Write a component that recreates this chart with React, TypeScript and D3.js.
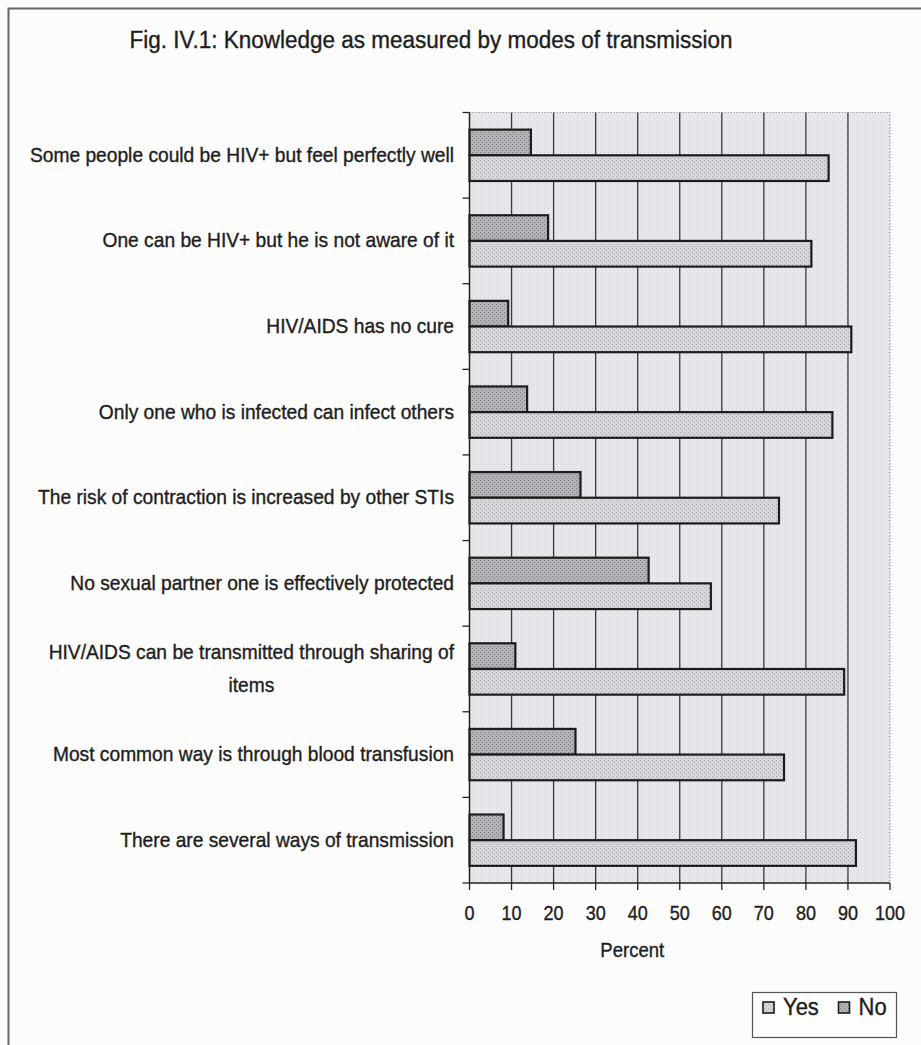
import React, { useEffect, useRef } from 'react';
import * as d3 from 'd3';

// values (percent)
const categories = [
  'Some people could be HIV+ but feel perfectly well',
  'One can be HIV+ but he is not aware of it',
  'HIV/AIDS has no cure',
  'Only one who is infected can infect others',
  'The risk of contraction is increased by other STIs',
  'No sexual partner one is effectively protected',
  'HIV/AIDS can be transmitted through sharing of\nitems',
  'Most common way is through blood transfusion',
  'There are several ways of transmission',
];
const noValues = [14.6, 18.7, 9.2, 13.7, 26.4, 42.6, 10.9, 25.2, 8.1];
const yesValues = [85.4, 81.3, 90.8, 86.3, 73.6, 57.4, 89.1, 74.8, 91.9];
const seriesNames = ['No', 'Yes'];
const xTicks = [0, 10, 20, 30, 40, 50, 60, 70, 80, 90, 100];
const legendItems = ['Yes', 'No'];

const W = 921;
const H = 1045;
const FONT = '"Liberation Sans", Arial, sans-serif';
const STRETCH = 1.1; // the scan is a little taller than wide

const App = () => {
  const svgRef = useRef<SVGSVGElement>(null);

  useEffect(() => {
    const svg = d3.select(svgRef.current);
    svg.selectAll('*').remove();

    const left = 469.5, right = 890, top = 112.5, bottom = 883;

    const x = d3.scaleLinear().domain([0, 100]).range([left, right]);
    const y = d3.scaleBand<string>()
      .domain(categories)
      .range([top, bottom])
      .paddingInner(0.4)
      .paddingOuter(0.2);
    const inner = d3.scaleBand<string>()
      .domain(seriesNames)
      .range([0, y.bandwidth()]);

    // helper for text, stretched vertically like the scan
    const label = (parent, tx, ty, size, txt, anchor = 'middle') =>
      parent.append('text')
        .attr('transform', `translate(${tx},${ty}) scale(1,${STRETCH})`)
        .attr('text-anchor', anchor)
        .style('font-family', FONT)
        .style('font-size', size + 'px')
        .style('fill', '#1e1e1e')
        .style('stroke', '#1e1e1e')
        .style('stroke-width', 0.35)
        .text(txt);

    // stipple patterns, like the scanned greys
    const defs = svg.append('defs');
    const mkPattern = (id, base, dot) => {
      const p = defs.append('pattern')
        .attr('id', id)
        .attr('width', 4)
        .attr('height', 4)
        .attr('patternUnits', 'userSpaceOnUse');
      p.append('rect').attr('width', 4).attr('height', 4).attr('fill', base);
      p.append('rect').attr('x', 0).attr('y', 0).attr('width', 1).attr('height', 1).attr('fill', dot);
      p.append('rect').attr('x', 2).attr('y', 2).attr('width', 1).attr('height', 1).attr('fill', dot);
    };
    mkPattern('patYes', '#d6d6db', '#a4a4ab');
    mkPattern('patNo', '#b2b2b7', '#76767c');
    mkPattern('patBg', '#e9e9ed', '#cfcfd5');

    svg.append('rect').attr('width', W).attr('height', H).attr('fill', '#fcfcfc');

    // outer frame (left and top edges visible in scan)
    svg.append('path')
      .attr('d', `M8.5,${H} V8.5 H${W}`)
      .attr('fill', 'none')
      .attr('stroke', '#666')
      .attr('stroke-width', 2);

    label(svg, 431, 48, 22.5, 'Fig. IV.1: Knowledge as measured by modes of transmission');

    // plot area
    svg.append('rect')
      .attr('x', left)
      .attr('y', top)
      .attr('width', right - left)
      .attr('height', bottom - top)
      .attr('fill', 'url(#patBg)');
    svg.append('path')
      .attr('d', `M${left},${top} H${right} V${bottom}`)
      .attr('fill', 'none')
      .attr('stroke', '#a0a0a6')
      .attr('stroke-width', 1.2)
      .attr('stroke-dasharray', '1.5 1.5');

    svg.append('g')
      .selectAll('line')
      .data(xTicks.filter(t => t > 0 && t < 100))
      .enter().append('line')
      .attr('x1', d => x(d))
      .attr('x2', d => x(d))
      .attr('y1', top)
      .attr('y2', bottom)
      .attr('stroke', '#3a3a3a')
      .attr('stroke-width', 1.3);

    // bars
    const rows = categories.map((c, i) => ({ c, No: noValues[i], Yes: yesValues[i] }));
    const g = svg.append('g');
    rows.forEach(r => {
      seriesNames.forEach(s => {
        g.append('rect')
          .attr('x', x(0))
          .attr('y', y(r.c) + inner(s))
          .attr('width', x(r[s]) - x(0))
          .attr('height', inner.bandwidth())
          .attr('fill', s === 'Yes' ? 'url(#patYes)' : 'url(#patNo)')
          .attr('stroke', '#1c1c1c')
          .attr('stroke-width', 2.2);
      });
    });

    // left axis
    const step = y.step();
    svg.append('line')
      .attr('x1', left).attr('x2', left)
      .attr('y1', top).attr('y2', bottom)
      .attr('stroke', '#222').attr('stroke-width', 1.5);
    svg.append('g')
      .selectAll('line')
      .data(d3.range(categories.length + 1))
      .enter().append('line')
      .attr('x1', left - 7).attr('x2', left)
      .attr('y1', i => top + i * step)
      .attr('y2', i => top + i * step)
      .attr('stroke', '#222').attr('stroke-width', 1.3);

    // bottom axis
    svg.append('line')
      .attr('x1', left).attr('x2', right)
      .attr('y1', bottom).attr('y2', bottom)
      .attr('stroke', '#222').attr('stroke-width', 1.5);
    const xt = svg.append('g');
    xTicks.forEach(d => {
      xt.append('line')
        .attr('x1', x(d)).attr('x2', x(d))
        .attr('y1', bottom).attr('y2', bottom + 7)
        .attr('stroke', '#222').attr('stroke-width', 1.3);
      label(xt, x(d), 920, 18, String(d));
    });

    label(svg, x(38.7), 957, 18.5, 'Percent');

    // category labels
    const labelRight = 454;
    categories.forEach(c => {
      const lines = c.split('\n');
      const cy = y(c) + y.bandwidth() / 2;
      if (lines.length === 1) {
        label(svg, labelRight, cy + 6.5, 19.2, c, 'end');
      } else {
        const lh = 30;
        const t = label(svg, 0, cy + 6.5, 19.2, '', 'middle');
        const spans = lines.map((ln, k) => t.append('tspan')
          .attr('y', (k - (lines.length - 1) / 2) * lh)
          .text(ln));
        const maxW = d3.max(spans, s => (s.node() as SVGTSpanElement).getComputedTextLength()) || 0;
        spans.forEach(s => s.attr('x', labelRight - maxW / 2));
      }
    });

    // legend
    const lg = svg.append('g');
    lg.append('rect')
      .attr('x', 752.5).attr('y', 992.5)
      .attr('width', 144).attr('height', 45)
      .attr('fill', '#fdfdfd')
      .attr('stroke', '#555').attr('stroke-width', 1.2);
    const legendX = [763, 838.5];
    legendItems.forEach((s, i) => {
      lg.append('rect')
        .attr('x', legendX[i]).attr('y', 1002)
        .attr('width', 11).attr('height', 11)
        .attr('fill', s === 'Yes' ? 'url(#patYes)' : 'url(#patNo)')
        .attr('stroke', '#1c1c1c').attr('stroke-width', 1.6);
      label(lg, legendX[i] + 20, 1015, 22, s, 'start');
    });
  }, []);

  return (
    <svg
      ref={svgRef}
      width={W}
      height={H}
      style={{ position: 'absolute', left: 0, top: 0, display: 'block' }}
    />
  );
};

export default App;
